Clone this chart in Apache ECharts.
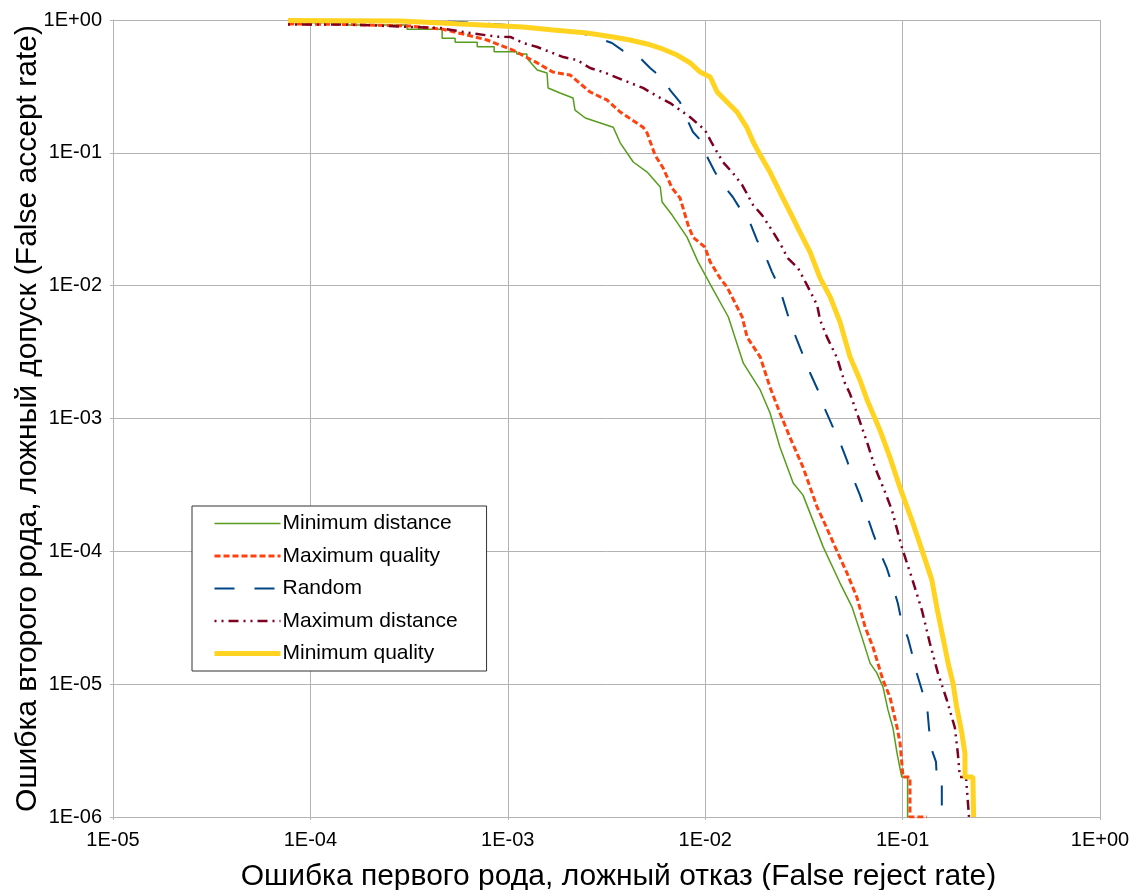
<!DOCTYPE html>
<html>
<head>
<meta charset="utf-8">
<script src="https://cdn.jsdelivr.net/npm/echarts@6/dist/echarts.min.js"></script>
<style>
  html, body { margin: 0; padding: 0; background: #fff; overflow: hidden; }
  #chart { width: 1131px; height: 890px; }
</style>
</head>
<body>
<div id="chart"></div>
<script>
// FRR (x) / FAR (y) pairs
const minDistFrr = [7.7e-5, 1.55e-4, 1.55e-4, 3.09e-4, 3.09e-4, 4.65e-4, 4.65e-4, 5.41e-4, 5.41e-4, 7.0e-4, 7.0e-4, 8.53e-4, 8.53e-4, 1.11e-3, 1.11e-3, 1.25e-3, 1.25e-3, 1.41e-3, 1.58e-3, 1.60e-3, 1.84e-3, 2.14e-3, 2.19e-3, 2.47e-3, 3.42e-3, 3.71e-3, 4.32e-3, 5.08e-3, 5.92e-3, 6.05e-3, 6.80e-3, 8.09e-3, 9.2e-3, 1.08e-2, 1.31e-2, 1.56e-2, 1.90e-2, 2.13e-2, 2.39e-2, 2.79e-2, 3.13e-2, 3.96e-2, 4.82e-2, 5.55e-2, 6.22e-2, 6.84e-2, 7.41e-2, 7.96e-2, 8.43e-2, 8.93e-2, 9.38e-2, 0.099, 0.106, 0.106, 0.111];
const minDistFar = [0.954, 0.954, 0.917, 0.917, 0.851, 0.851, 0.728, 0.728, 0.680, 0.680, 0.629, 0.629, 0.577, 0.577, 0.555, 0.555, 0.515, 0.420, 0.399, 0.308, 0.282, 0.259, 0.210, 0.183, 0.156, 0.119, 0.0853, 0.0717, 0.0553, 0.0426, 0.0340, 0.0232, 0.0151, 0.00976, 0.00581, 0.00261, 0.00164, 0.00110, 6.1e-4, 3.27e-4, 2.65e-4, 1.08e-4, 5.77e-5, 3.80e-5, 2.26e-5, 1.44e-5, 1.21e-5, 9.5e-6, 6.4e-6, 4.7e-6, 3.0e-6, 2e-6, 2e-6, 1e-6, 1e-6];

const maxQualFrr = [7.7e-5, 1.55e-4, 3.20e-4, 4.70e-4, 6.22e-4, 7.85e-4, 1.06e-3, 1.41e-3, 1.69e-3, 2.07e-3, 2.61e-3, 3.18e-3, 3.71e-3, 4.84e-3, 5.08e-3, 5.57e-3, 6.12e-3, 6.79e-3, 7.46e-3, 8.19e-3, 8.67e-3, 9.97e-3, 1.06e-2, 1.19e-2, 1.29e-2, 1.54e-2, 1.63e-2, 1.90e-2, 2.13e-2, 2.39e-2, 2.69e-2, 3.13e-2, 3.69e-2, 3.96e-2, 4.55e-2, 5.22e-2, 5.87e-2, 6.46e-2, 7.08e-2, 7.96e-2, 8.63e-2, 9.38e-2, 9.71e-2, 0.1005, 0.109, 0.109, 0.133];
const maxQualFar = [0.933, 0.925, 0.901, 0.851, 0.771, 0.707, 0.594, 0.475, 0.406, 0.385, 0.287, 0.250, 0.203, 0.156, 0.141, 0.0962, 0.0769, 0.0543, 0.0457, 0.0286, 0.0232, 0.0195, 0.0151, 0.0114, 0.00976, 0.00581, 0.00410, 0.00290, 0.00172, 0.00110, 7.2e-4, 4.3e-4, 2.15e-4, 1.72e-4, 1.08e-4, 6.9e-5, 4.5e-5, 2.69e-5, 1.90e-5, 1.07e-5, 8.0e-6, 4.7e-6, 3.6e-6, 2e-6, 2e-6, 1e-6, 1e-6];

const randomFrr = [7.7e-5, 2.85e-4, 5.73e-4, 9.9e-4, 1.15e-3, 1.58e-3, 1.91e-3, 2.32e-3, 2.77e-3, 3.37e-3, 3.84e-3, 4.68e-3, 5.26e-3, 6.05e-3, 6.64e-3, 7.45e-3, 7.99e-3, 8.67e-3, 9.75e-3, 1.03e-2, 1.12e-2, 1.23e-2, 1.38e-2, 1.54e-2, 1.69e-2, 1.83e-2, 2.01e-2, 2.18e-2, 2.37e-2, 2.53e-2, 2.69e-2, 2.92e-2, 3.13e-2, 3.40e-2, 3.72e-2, 4.00e-2, 4.39e-2, 4.82e-2, 5.22e-2, 5.61e-2, 6.08e-2, 6.59e-2, 7.08e-2, 7.67e-2, 8.31e-2, 8.93e-2, 9.46e-2, 9.9e-2, 0.1065, 0.1128, 0.118, 0.1253, 0.1333, 0.136, 0.139, 0.1476, 0.149, 0.158, 0.158, 0.163];
const randomFar = [0.99, 0.983, 0.966, 0.917, 0.886, 0.841, 0.812, 0.798, 0.745, 0.671, 0.585, 0.518, 0.435, 0.366, 0.297, 0.241, 0.186, 0.1435, 0.1186, 0.0914, 0.0717, 0.0572, 0.0465, 0.0358, 0.0296, 0.0220, 0.0170, 0.01265, 0.00976, 0.00714, 0.00532, 0.00389, 0.00300, 0.00220, 0.00164, 0.00122, 8.9e-4, 6.6e-4, 4.86e-4, 3.56e-4, 2.65e-4, 1.87e-4, 1.37e-4, 9.9e-5, 7.5e-5, 5.4e-5, 4.07e-5, 2.93e-5, 2.22e-5, 1.60e-5, 1.21e-5, 9.0e-6, 6.6e-6, 4.7e-6, 3.36e-6, 2.6e-6, 2e-6, 2e-6, 1e-6, 1e-6];

const maxDistFrr = [7.7e-5, 1.55e-4, 4.54e-4, 6.44e-4, 8.83e-4, 1.03e-3, 1.20e-3, 1.41e-3, 1.91e-3, 2.24e-3, 2.61e-3, 3.04e-3, 3.84e-3, 4.84e-3, 5.92e-3, 6.64e-3, 8.37e-3, 9.97e-3, 1.08e-2, 1.23e-2, 1.38e-2, 1.54e-2, 1.75e-2, 1.94e-2, 2.21e-2, 2.39e-2, 2.62e-2, 2.95e-2, 3.28e-2, 3.69e-2, 3.82e-2, 4.14e-2, 4.66e-2, 5.10e-2, 5.40e-2, 5.87e-2, 6.68e-2, 7.24e-2, 8.15e-2, 8.83e-2, 9.9e-2, 0.1114, 0.1253, 0.1374, 0.151, 0.1675, 0.184, 0.1905, 0.195, 0.2095, 0.217];
const maxDistFar = [0.925, 0.925, 0.87, 0.798, 0.748, 0.745, 0.671, 0.626, 0.526, 0.500, 0.435, 0.406, 0.353, 0.308, 0.259, 0.237, 0.186, 0.1485, 0.1186, 0.0853, 0.0705, 0.0572, 0.0404, 0.0340, 0.0253, 0.0209, 0.0161, 0.0136, 0.0101, 0.00714, 0.00551, 0.00410, 0.00285, 0.00185, 0.00155, 0.00110, 6.3e-4, 4.3e-4, 2.79e-4, 2.04e-4, 1.08e-4, 6.3e-5, 3.6e-5, 2.04e-5, 1.21e-5, 7.6e-6, 4.7e-6, 3.0e-6, 2e-6, 2e-6, 1e-6];

const minQualFrr = [7.7e-5, 2.85e-4, 1.19e-3, 1.70e-3, 2.52e-3, 3.42e-3, 4.16e-3, 5.08e-3, 5.92e-3, 7.21e-3, 8.39e-3, 9.42e-3, 1.06e-2, 1.15e-2, 1.29e-2, 1.45e-2, 1.63e-2, 1.75e-2, 1.90e-2, 2.13e-2, 2.39e-2, 2.69e-2, 3.02e-2, 3.40e-2, 3.82e-2, 4.30e-2, 4.82e-2, 5.42e-2, 6.08e-2, 6.61e-2, 7.67e-2, 8.63e-2, 9.68e-2, 0.1114, 0.1268, 0.1406, 0.149, 0.160, 0.170, 0.180, 0.188, 0.1995, 0.207, 0.207, 0.227, 0.229];
const minQualFar = [0.99, 0.983, 0.886, 0.841, 0.798, 0.745, 0.707, 0.660, 0.615, 0.545, 0.475, 0.406, 0.372, 0.287, 0.241, 0.203, 0.154, 0.1206, 0.0962, 0.0717, 0.0507, 0.0358, 0.0253, 0.0179, 0.0114, 0.0082, 0.00532, 0.00290, 0.00195, 0.00138, 8.2e-4, 5.1e-4, 3.04e-4, 1.72e-4, 9.7e-5, 6.1e-5, 3.80e-5, 2.26e-5, 1.44e-5, 1.02e-5, 6.7e-6, 4.3e-6, 3.0e-6, 2e-6, 2e-6, 1e-6];

const seriesNames = ["Minimum distance", "Maximum quality", "Random", "Maximum distance", "Minimum quality"];

const FONT = "'Liberation Sans', Arial, sans-serif";

function zip(xs, ys) {
  return xs.map((x, i) => [x, ys[i]]);
}

// 1E-05 style labels
function expLabel(v) {
  const e = Math.round(Math.log10(v));
  const a = Math.abs(e);
  return "1E" + (e < 0 ? "-" : "+") + (a < 10 ? "0" + a : a);
}

let lineStyles = [
  { color: "#579d1c", width: 1.5, type: "solid" },
  { color: "#ff420e", width: 3, type: [6, 3] },
  { color: "#004586", width: 2, type: [20, 20] },
  { color: "#7e0021", width: 2.5, type: [2, 5, 2, 5, 10, 5] },
  { color: "#ffd320", width: 5, type: "solid" },
];

const dataSets = [
  zip(minDistFrr, minDistFar),
  zip(maxQualFrr, maxQualFar),
  zip(randomFrr, randomFar),
  zip(maxDistFrr, maxDistFar),
  zip(minQualFrr, minQualFar),
];

const chart = echarts.init(document.getElementById("chart"));

const option = {
  backgroundColor: "#fff",
  animation: false,
  grid: {
    left: 113,
    top: 20,
    right: 31,
    bottom: 73,
    containLabel: false,
    outerBoundsMode: "none",
  },
  legend: {
    orient: "vertical",
    left: 192,
    top: 506,
    backgroundColor: "#fff",
    borderColor: "#333",
    borderWidth: 1,
    borderRadius: 0,
    padding: [7, 29, 7, 20],
    itemWidth: 66,
    itemHeight: 14,
    itemGap: 11.5,
    itemStyle: { opacity: 0 },
    textStyle: {
      fontFamily: FONT,
      fontSize: 21,
      color: "#000",
      lineHeight: 20,
      padding: [0, 0, 0, -3],
    },
    data: seriesNames.map((n, i) => ({
      name: n,
      lineStyle: {
        width: lineStyles[i].width,
        type: lineStyles[i].type,
        color: lineStyles[i].color,
      },
    })),
  },
  xAxis: {
    type: "log",
    logBase: 10,
    min: 1e-5,
    max: 1,
    name: "Ошибка первого рода, ложный отказ (False reject rate)",
    nameLocation: "middle",
    nameGap: 45,
    nameMoveOverlap: false,
    nameTextStyle: {
      fontFamily: FONT,
      fontSize: 30,
      color: "#000",
      padding: [0, 0, 0, 24],
    },
    axisLine: { lineStyle: { color: "#b3b3b3", width: 1 } },
    axisTick: { show: true, length: 3, lineStyle: { color: "#b3b3b3" } },
    axisLabel: {
      fontFamily: FONT,
      fontSize: 20,
      color: "#000",
      margin: 13,
      formatter: expLabel,
    },
    splitLine: { show: true, lineStyle: { color: "#b3b3b3", width: 1 } },
    minorTick: { show: false },
  },
  yAxis: {
    type: "log",
    logBase: 10,
    min: 1e-6,
    max: 1,
    name: "Ошибка второго рода, ложный допуск (False accept rate)",
    nameLocation: "middle",
    nameGap: 70,
    nameMoveOverlap: false,
    nameTextStyle: { fontFamily: FONT, fontSize: 30, color: "#000" },
    axisLine: { show: true, lineStyle: { color: "#b3b3b3", width: 1 } },
    axisTick: { show: true, length: 3, lineStyle: { color: "#b3b3b3" } },
    axisLabel: {
      fontFamily: FONT,
      fontSize: 20,
      color: "#000",
      margin: 11,
      formatter: expLabel,
    },
    splitLine: { show: true, lineStyle: { color: "#b3b3b3", width: 1 } },
  },
  series: seriesNames.map((name, i) => ({
    name: name,
    type: "line",
    symbol: "none",
    showSymbol: false,
    smooth: false,
    clip: true,
    itemStyle: { color: lineStyles[i].color },
    lineStyle: lineStyles[i],
    data: dataSets[i],
  })),
};

chart.setOption(option);
</script>
</body>
</html>
